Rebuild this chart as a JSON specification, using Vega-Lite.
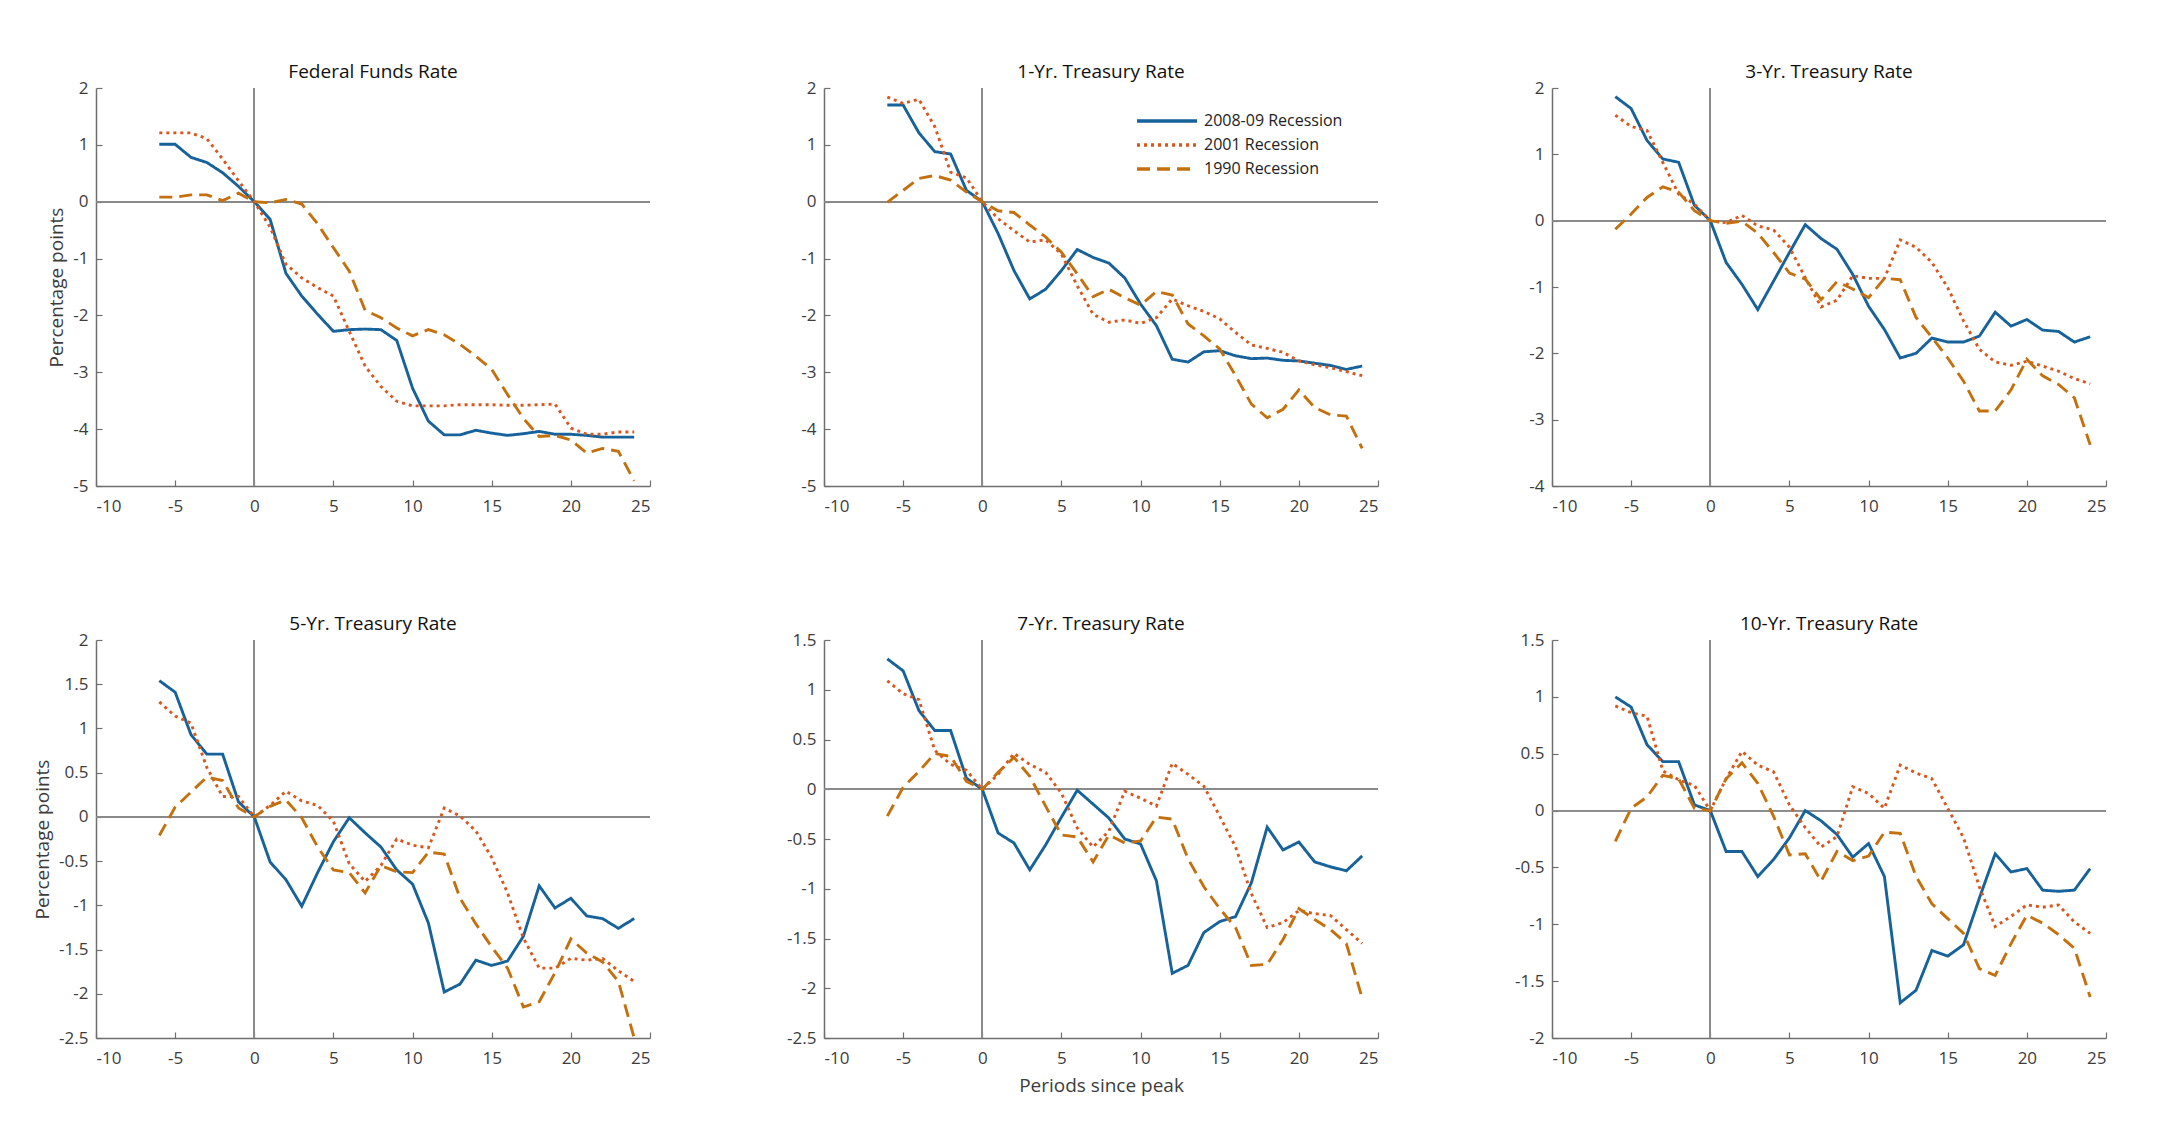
{
  "$schema": "https://vega.github.io/schema/vega-lite/v6.json",
  "background": "white",
  "padding": {"left": 33, "top": 63, "right": 5, "bottom": 5},
  "config": {
    "font": "Open Sans",
    "view": {"stroke": null},
    "axis": {"grid": false, "domainColor": "#6f6f6f", "domainWidth": 1.5, "tickColor": "#6f6f6f", "tickWidth": 1.2, "tickSize": -6, "labelFont": "Open Sans", "labelFontSize": 17, "labelColor": "#3c3c3c", "titleFont": "Open Sans", "titleFontSize": 19, "titleFontWeight": "normal", "titleColor": "#3c3c3c"},
    "axisX": {"labelPadding": 18, "titlePadding": 10},
    "axisY": {"labelPadding": 14, "titlePadding": 6},
    "title": {"font": "Open Sans", "fontSize": 19, "fontWeight": "normal", "color": "#111111", "offset": -3}
  },
  "datasets": {
    "ffr": [
      {"x":-6,"2008-09":1.01,"2001":1.21,"1990":0.08},{"x":-5,"2008-09":1.01,"2001":1.21,"1990":0.08},{"x":-4,"2008-09":0.78,"2001":1.21,"1990":0.12},{"x":-3,"2008-09":0.69,"2001":1.11,"1990":0.12},{"x":-2,"2008-09":0.51,"2001":0.75,"1990":0.02},{"x":-1,"2008-09":0.27,"2001":0.37,"1990":0.15},{"x":0,"2008-09":0,"2001":0,"1990":0},{"x":1,"2008-09":-0.31,"2001":-0.45,"1990":-0.02},{"x":2,"2008-09":-1.26,"2001":-1.10,"1990":0.04},{"x":3,"2008-09":-1.66,"2001":-1.34,"1990":-0.04},{"x":4,"2008-09":-1.98,"2001":-1.51,"1990":-0.39},{"x":5,"2008-09":-2.28,"2001":-1.66,"1990":-0.81},{"x":6,"2008-09":-2.25,"2001":-2.28,"1990":-1.22},{"x":7,"2008-09":-2.24,"2001":-2.89,"1990":-1.91},{"x":8,"2008-09":-2.25,"2001":-3.25,"1990":-2.04},{"x":9,"2008-09":-2.44,"2001":-3.51,"1990":-2.22},{"x":10,"2008-09":-3.28,"2001":-3.59,"1990":-2.36},{"x":11,"2008-09":-3.86,"2001":-3.59,"1990":-2.25},{"x":12,"2008-09":-4.10,"2001":-3.59,"1990":-2.34},{"x":13,"2008-09":-4.10,"2001":-3.57,"1990":-2.51},{"x":14,"2008-09":-4.02,"2001":-3.57,"1990":-2.72},{"x":15,"2008-09":-4.07,"2001":-3.57,"1990":-2.95},{"x":16,"2008-09":-4.11,"2001":-3.58,"1990":-3.39},{"x":17,"2008-09":-4.08,"2001":-3.58,"1990":-3.81},{"x":18,"2008-09":-4.04,"2001":-3.57,"1990":-4.13},{"x":19,"2008-09":-4.09,"2001":-3.56,"1990":-4.11},{"x":20,"2008-09":-4.09,"2001":-3.98,"1990":-4.19},{"x":21,"2008-09":-4.11,"2001":-4.09,"1990":-4.42},{"x":22,"2008-09":-4.14,"2001":-4.09,"1990":-4.34},{"x":23,"2008-09":-4.14,"2001":-4.05,"1990":-4.39},{"x":24,"2008-09":-4.14,"2001":-4.05,"1990":-4.91}
    ],
    "y1": [
      {"x":-6,"2008-09":1.70,"2001":1.84,"1990":-0.01},{"x":-5,"2008-09":1.70,"2001":1.73,"1990":0.20},{"x":-4,"2008-09":1.21,"2001":1.80,"1990":0.41},{"x":-3,"2008-09":0.88,"2001":1.32,"1990":0.46},{"x":-2,"2008-09":0.84,"2001":0.52,"1990":0.38},{"x":-1,"2008-09":0.20,"2001":0.42,"1990":0.17},{"x":0,"2008-09":0,"2001":0,"1990":0},{"x":1,"2008-09":-0.56,"2001":-0.30,"1990":-0.16},{"x":2,"2008-09":-1.21,"2001":-0.51,"1990":-0.19},{"x":3,"2008-09":-1.71,"2001":-0.71,"1990":-0.41},{"x":4,"2008-09":-1.54,"2001":-0.67,"1990":-0.62},{"x":5,"2008-09":-1.21,"2001":-0.92,"1990":-0.89},{"x":6,"2008-09":-0.84,"2001":-1.48,"1990":-1.27},{"x":7,"2008-09":-0.98,"2001":-1.98,"1990":-1.67},{"x":8,"2008-09":-1.08,"2001":-2.12,"1990":-1.54},{"x":9,"2008-09":-1.34,"2001":-2.08,"1990":-1.69},{"x":10,"2008-09":-1.80,"2001":-2.14,"1990":-1.82},{"x":11,"2008-09":-2.18,"2001":-2.04,"1990":-1.58},{"x":12,"2008-09":-2.77,"2001":-1.71,"1990":-1.64},{"x":13,"2008-09":-2.82,"2001":-1.83,"1990":-2.15},{"x":14,"2008-09":-2.64,"2001":-1.93,"1990":-2.36},{"x":15,"2008-09":-2.62,"2001":-2.06,"1990":-2.59},{"x":16,"2008-09":-2.71,"2001":-2.30,"1990":-3.06},{"x":17,"2008-09":-2.76,"2001":-2.52,"1990":-3.56},{"x":18,"2008-09":-2.75,"2001":-2.58,"1990":-3.80},{"x":19,"2008-09":-2.79,"2001":-2.65,"1990":-3.65},{"x":20,"2008-09":-2.80,"2001":-2.80,"1990":-3.31},{"x":21,"2008-09":-2.84,"2001":-2.87,"1990":-3.62},{"x":22,"2008-09":-2.88,"2001":-2.92,"1990":-3.75},{"x":23,"2008-09":-2.95,"2001":-2.99,"1990":-3.77},{"x":24,"2008-09":-2.89,"2001":-3.06,"1990":-4.34}
    ],
    "y3": [
      {"x":-6,"2008-09":1.87,"2001":1.59,"1990":-0.13},{"x":-5,"2008-09":1.69,"2001":1.42,"1990":0.10},{"x":-4,"2008-09":1.21,"2001":1.36,"1990":0.35},{"x":-3,"2008-09":0.93,"2001":0.88,"1990":0.51},{"x":-2,"2008-09":0.88,"2001":0.40,"1990":0.43},{"x":-1,"2008-09":0.23,"2001":0.25,"1990":0.15},{"x":0,"2008-09":0,"2001":0,"1990":0},{"x":1,"2008-09":-0.63,"2001":-0.03,"1990":-0.04},{"x":2,"2008-09":-0.96,"2001":0.08,"1990":-0.01},{"x":3,"2008-09":-1.34,"2001":-0.08,"1990":-0.19},{"x":4,"2008-09":-0.91,"2001":-0.14,"1990":-0.48},{"x":5,"2008-09":-0.48,"2001":-0.40,"1990":-0.79},{"x":6,"2008-09":-0.06,"2001":-0.86,"1990":-0.88},{"x":7,"2008-09":-0.27,"2001":-1.30,"1990":-1.19},{"x":8,"2008-09":-0.43,"2001":-1.20,"1990":-0.92},{"x":9,"2008-09":-0.81,"2001":-0.83,"1990":-1.03},{"x":10,"2008-09":-1.29,"2001":-0.87,"1990":-1.16},{"x":11,"2008-09":-1.64,"2001":-0.87,"1990":-0.87},{"x":12,"2008-09":-2.07,"2001":-0.29,"1990":-0.89},{"x":13,"2008-09":-2.00,"2001":-0.40,"1990":-1.46},{"x":14,"2008-09":-1.77,"2001":-0.63,"1990":-1.76},{"x":15,"2008-09":-1.83,"2001":-1.01,"1990":-2.07},{"x":16,"2008-09":-1.83,"2001":-1.51,"1990":-2.42},{"x":17,"2008-09":-1.74,"2001":-1.94,"1990":-2.87},{"x":18,"2008-09":-1.38,"2001":-2.13,"1990":-2.87},{"x":19,"2008-09":-1.59,"2001":-2.18,"1990":-2.55},{"x":20,"2008-09":-1.49,"2001":-2.12,"1990":-2.09},{"x":21,"2008-09":-1.65,"2001":-2.19,"1990":-2.34},{"x":22,"2008-09":-1.67,"2001":-2.27,"1990":-2.47},{"x":23,"2008-09":-1.83,"2001":-2.38,"1990":-2.67},{"x":24,"2008-09":-1.75,"2001":-2.46,"1990":-3.38}
    ],
    "y5": [
      {"x":-6,"2008-09":1.54,"2001":1.30,"1990":-0.21},{"x":-5,"2008-09":1.41,"2001":1.14,"1990":0.11},{"x":-4,"2008-09":0.93,"2001":1.06,"1990":0.28},{"x":-3,"2008-09":0.71,"2001":0.56,"1990":0.45},{"x":-2,"2008-09":0.71,"2001":0.23,"1990":0.41},{"x":-1,"2008-09":0.17,"2001":0.23,"1990":0.10},{"x":0,"2008-09":0,"2001":0,"1990":0},{"x":1,"2008-09":-0.51,"2001":0.13,"1990":0.12},{"x":2,"2008-09":-0.71,"2001":0.29,"1990":0.19},{"x":3,"2008-09":-1.01,"2001":0.18,"1990":-0.01},{"x":4,"2008-09":-0.63,"2001":0.13,"1990":-0.34},{"x":5,"2008-09":-0.28,"2001":-0.05,"1990":-0.60},{"x":6,"2008-09":-0.01,"2001":-0.53,"1990":-0.63},{"x":7,"2008-09":-0.18,"2001":-0.73,"1990":-0.86},{"x":8,"2008-09":-0.34,"2001":-0.55,"1990":-0.55},{"x":9,"2008-09":-0.60,"2001":-0.25,"1990":-0.62},{"x":10,"2008-09":-0.76,"2001":-0.32,"1990":-0.63},{"x":11,"2008-09":-1.20,"2001":-0.35,"1990":-0.40},{"x":12,"2008-09":-1.98,"2001":0.10,"1990":-0.42},{"x":13,"2008-09":-1.89,"2001":0.01,"1990":-0.92},{"x":14,"2008-09":-1.62,"2001":-0.16,"1990":-1.21},{"x":15,"2008-09":-1.68,"2001":-0.46,"1990":-1.47},{"x":16,"2008-09":-1.63,"2001":-0.86,"1990":-1.71},{"x":17,"2008-09":-1.35,"2001":-1.37,"1990":-2.15},{"x":18,"2008-09":-0.78,"2001":-1.71,"1990":-2.09},{"x":19,"2008-09":-1.03,"2001":-1.71,"1990":-1.76},{"x":20,"2008-09":-0.92,"2001":-1.60,"1990":-1.38},{"x":21,"2008-09":-1.12,"2001":-1.62,"1990":-1.54},{"x":22,"2008-09":-1.15,"2001":-1.60,"1990":-1.64},{"x":23,"2008-09":-1.26,"2001":-1.74,"1990":-1.86},{"x":24,"2008-09":-1.15,"2001":-1.86,"1990":-2.5}
    ],
    "y7": [
      {"x":-6,"2008-09":1.31,"2001":1.09,"1990":-0.27},{"x":-5,"2008-09":1.19,"2001":0.96,"1990":0.02},{"x":-4,"2008-09":0.79,"2001":0.90,"1990":0.18},{"x":-3,"2008-09":0.59,"2001":0.39,"1990":0.36},{"x":-2,"2008-09":0.59,"2001":0.25,"1990":0.33},{"x":-1,"2008-09":0.11,"2001":0.19,"1990":0.08},{"x":0,"2008-09":0,"2001":0,"1990":0},{"x":1,"2008-09":-0.44,"2001":0.15,"1990":0.17},{"x":2,"2008-09":-0.54,"2001":0.36,"1990":0.32},{"x":3,"2008-09":-0.81,"2001":0.25,"1990":0.13},{"x":4,"2008-09":-0.56,"2001":0.17,"1990":-0.17},{"x":5,"2008-09":-0.28,"2001":-0.04,"1990":-0.46},{"x":6,"2008-09":-0.01,"2001":-0.39,"1990":-0.48},{"x":7,"2008-09":-0.15,"2001":-0.58,"1990":-0.73},{"x":8,"2008-09":-0.29,"2001":-0.42,"1990":-0.46},{"x":9,"2008-09":-0.50,"2001":-0.02,"1990":-0.54},{"x":10,"2008-09":-0.55,"2001":-0.09,"1990":-0.52},{"x":11,"2008-09":-0.92,"2001":-0.17,"1990":-0.28},{"x":12,"2008-09":-1.85,"2001":0.26,"1990":-0.30},{"x":13,"2008-09":-1.77,"2001":0.15,"1990":-0.70},{"x":14,"2008-09":-1.44,"2001":0.03,"1990":-0.98},{"x":15,"2008-09":-1.33,"2001":-0.27,"1990":-1.20},{"x":16,"2008-09":-1.28,"2001":-0.58,"1990":-1.39},{"x":17,"2008-09":-0.94,"2001":-1.05,"1990":-1.77},{"x":18,"2008-09":-0.38,"2001":-1.39,"1990":-1.76},{"x":19,"2008-09":-0.61,"2001":-1.34,"1990":-1.51},{"x":20,"2008-09":-0.53,"2001":-1.22,"1990":-1.20},{"x":21,"2008-09":-0.73,"2001":-1.25,"1990":-1.31},{"x":22,"2008-09":-0.78,"2001":-1.27,"1990":-1.41},{"x":23,"2008-09":-0.82,"2001":-1.41,"1990":-1.55},{"x":24,"2008-09":-0.67,"2001":-1.55,"1990":-2.10}
    ],
    "y10": [
      {"x":-6,"2008-09":1.00,"2001":0.92,"1990":-0.27},{"x":-5,"2008-09":0.91,"2001":0.86,"1990":0.02},{"x":-4,"2008-09":0.58,"2001":0.83,"1990":0.12},{"x":-3,"2008-09":0.43,"2001":0.35,"1990":0.31},{"x":-2,"2008-09":0.43,"2001":0.27,"1990":0.28},{"x":-1,"2008-09":0.05,"2001":0.22,"1990":0.02},{"x":0,"2008-09":0,"2001":0,"1990":0},{"x":1,"2008-09":-0.36,"2001":0.28,"1990":0.28},{"x":2,"2008-09":-0.36,"2001":0.52,"1990":0.42},{"x":3,"2008-09":-0.58,"2001":0.40,"1990":0.24},{"x":4,"2008-09":-0.43,"2001":0.34,"1990":-0.05},{"x":5,"2008-09":-0.24,"2001":0.05,"1990":-0.39},{"x":6,"2008-09":0.00,"2001":-0.15,"1990":-0.38},{"x":7,"2008-09":-0.09,"2001":-0.32,"1990":-0.62},{"x":8,"2008-09":-0.21,"2001":-0.23,"1990":-0.36},{"x":9,"2008-09":-0.41,"2001":0.21,"1990":-0.44},{"x":10,"2008-09":-0.29,"2001":0.15,"1990":-0.40},{"x":11,"2008-09":-0.58,"2001":0.02,"1990":-0.19},{"x":12,"2008-09":-1.69,"2001":0.40,"1990":-0.20},{"x":13,"2008-09":-1.58,"2001":0.33,"1990":-0.58},{"x":14,"2008-09":-1.23,"2001":0.28,"1990":-0.82},{"x":15,"2008-09":-1.28,"2001":0.02,"1990":-0.95},{"x":16,"2008-09":-1.18,"2001":-0.24,"1990":-1.08},{"x":17,"2008-09":-0.77,"2001":-0.67,"1990":-1.39},{"x":18,"2008-09":-0.38,"2001":-1.02,"1990":-1.45},{"x":19,"2008-09":-0.54,"2001":-0.93,"1990":-1.17},{"x":20,"2008-09":-0.51,"2001":-0.83,"1990":-0.92},{"x":21,"2008-09":-0.70,"2001":-0.85,"1990":-0.99},{"x":22,"2008-09":-0.71,"2001":-0.83,"1990":-1.09},{"x":23,"2008-09":-0.70,"2001":-0.98,"1990":-1.21},{"x":24,"2008-09":-0.51,"2001":-1.08,"1990":-1.64}
    ]
  },
  "columns": 3,
  "spacing": {"row": 154, "column": 174},
  "bounds": "flush",
  "resolve": {"scale": {"color": "independent", "strokeDash": "independent"}, "legend": {"color": "independent", "strokeDash": "independent"}},
  "concat": [
    {
      "data": {"name": "ffr"},
      "title": "Federal Funds Rate",
      "width": 554, "height": 398,
      "transform": [{"fold": ["2008-09", "2001", "1990"], "as": ["rec", "val"]}],
      "layer": [
        {"mark": {"type": "rule", "color": "#8a8a8a", "strokeWidth": 1}, "encoding": {"y": {"datum": 0}}},
        {"mark": {"type": "rule", "color": "#8a8a8a", "strokeWidth": 1}, "encoding": {"x": {"datum": 0}}},
        {"mark": {"type": "line", "strokeWidth": 2.9},
         "encoding": {
           "x": {"field": "x", "type": "quantitative", "scale": {"domain": [-10, 25], "nice": false}, "axis": {"values": [-10, -5, 0, 5, 10, 15, 20, 25], "title": null, "labelExpr": "toString(datum.value)"}},
           "y": {"field": "val", "type": "quantitative", "scale": {"domain": [-5, 2], "nice": false}, "axis": {"values": [-5, -4, -3, -2, -1, 0, 1, 2], "title": "Percentage points", "labelExpr": "toString(datum.value)"}},
           "color": {"field": "rec", "type": "nominal", "scale": {"domain": ["2008-09", "2001", "1990"], "range": ["#17629a", "#d9561c", "#c5700e"]}, "legend": null},
           "strokeDash": {"field": "rec", "type": "nominal", "scale": {"domain": ["2008-09", "2001", "1990"], "range": [[1, 0], [3, 4], [13, 7]]}, "legend": null}
         }}
      ]
    },
    {
      "data": {"name": "y1"},
      "title": "1-Yr. Treasury Rate",
      "width": 554, "height": 398,
      "transform": [{"fold": ["2008-09", "2001", "1990"], "as": ["rec", "val"]}],
      "layer": [
        {"mark": {"type": "rule", "color": "#8a8a8a", "strokeWidth": 1}, "encoding": {"y": {"datum": 0}}},
        {"mark": {"type": "rule", "color": "#8a8a8a", "strokeWidth": 1}, "encoding": {"x": {"datum": 0}}},
        {"mark": {"type": "line", "strokeWidth": 2.9},
         "encoding": {
           "x": {"field": "x", "type": "quantitative", "scale": {"domain": [-10, 25], "nice": false}, "axis": {"values": [-10, -5, 0, 5, 10, 15, 20, 25], "title": null, "labelExpr": "toString(datum.value)"}},
           "y": {"field": "val", "type": "quantitative", "scale": {"domain": [-5, 2], "nice": false}, "axis": {"values": [-5, -4, -3, -2, -1, 0, 1, 2], "title": null, "labelExpr": "toString(datum.value)"}},
           "color": {"field": "rec", "type": "nominal", "scale": {"domain": ["2008-09", "2001", "1990"], "range": ["#17629a", "#d9561c", "#c5700e"]},
             "legend": {"orient": "none", "legendX": 311, "legendY": 21, "title": null, "labelExpr": "datum.label + ' Recession'", "symbolType": "M-1,0H5", "symbolSize": 400, "symbolStrokeWidth": 3.4, "labelFont": "Open Sans", "labelFontSize": 16, "labelColor": "#222222", "rowPadding": 4, "padding": 0, "labelOffset": 45}},
           "strokeDash": {"field": "rec", "type": "nominal", "scale": {"domain": ["2008-09", "2001", "1990"], "range": [[1, 0], [3, 4], [13, 7]]},
             "legend": {"orient": "none", "legendX": 311, "legendY": 21, "title": null, "labelExpr": "datum.label + ' Recession'", "symbolType": "M-1,0H5", "symbolSize": 400, "symbolStrokeWidth": 3.4, "labelFont": "Open Sans", "labelFontSize": 16, "labelColor": "#222222", "rowPadding": 4, "padding": 0, "labelOffset": 45}}
         }}
      ]
    },
    {
      "data": {"name": "y3"},
      "title": "3-Yr. Treasury Rate",
      "width": 554, "height": 398,
      "transform": [{"fold": ["2008-09", "2001", "1990"], "as": ["rec", "val"]}],
      "layer": [
        {"mark": {"type": "rule", "color": "#8a8a8a", "strokeWidth": 1}, "encoding": {"y": {"datum": 0}}},
        {"mark": {"type": "rule", "color": "#8a8a8a", "strokeWidth": 1}, "encoding": {"x": {"datum": 0}}},
        {"mark": {"type": "line", "strokeWidth": 2.9},
         "encoding": {
           "x": {"field": "x", "type": "quantitative", "scale": {"domain": [-10, 25], "nice": false}, "axis": {"values": [-10, -5, 0, 5, 10, 15, 20, 25], "title": null, "labelExpr": "toString(datum.value)"}},
           "y": {"field": "val", "type": "quantitative", "scale": {"domain": [-4, 2], "nice": false}, "axis": {"values": [-4, -3, -2, -1, 0, 1, 2], "title": null, "labelExpr": "toString(datum.value)"}},
           "color": {"field": "rec", "type": "nominal", "scale": {"domain": ["2008-09", "2001", "1990"], "range": ["#17629a", "#d9561c", "#c5700e"]}, "legend": null},
           "strokeDash": {"field": "rec", "type": "nominal", "scale": {"domain": ["2008-09", "2001", "1990"], "range": [[1, 0], [3, 4], [13, 7]]}, "legend": null}
         }}
      ]
    },
    {
      "data": {"name": "y5"},
      "title": "5-Yr. Treasury Rate",
      "width": 554, "height": 398,
      "transform": [{"fold": ["2008-09", "2001", "1990"], "as": ["rec", "val"]}],
      "layer": [
        {"mark": {"type": "rule", "color": "#8a8a8a", "strokeWidth": 1}, "encoding": {"y": {"datum": 0}}},
        {"mark": {"type": "rule", "color": "#8a8a8a", "strokeWidth": 1}, "encoding": {"x": {"datum": 0}}},
        {"mark": {"type": "line", "strokeWidth": 2.9},
         "encoding": {
           "x": {"field": "x", "type": "quantitative", "scale": {"domain": [-10, 25], "nice": false}, "axis": {"values": [-10, -5, 0, 5, 10, 15, 20, 25], "title": null, "labelExpr": "toString(datum.value)"}},
           "y": {"field": "val", "type": "quantitative", "scale": {"domain": [-2.5, 2], "nice": false}, "axis": {"values": [-2.5, -2, -1.5, -1, -0.5, 0, 0.5, 1, 1.5, 2], "title": "Percentage points", "labelExpr": "toString(datum.value)"}},
           "color": {"field": "rec", "type": "nominal", "scale": {"domain": ["2008-09", "2001", "1990"], "range": ["#17629a", "#d9561c", "#c5700e"]}, "legend": null},
           "strokeDash": {"field": "rec", "type": "nominal", "scale": {"domain": ["2008-09", "2001", "1990"], "range": [[1, 0], [3, 4], [13, 7]]}, "legend": null}
         }}
      ]
    },
    {
      "data": {"name": "y7"},
      "title": "7-Yr. Treasury Rate",
      "width": 554, "height": 398,
      "transform": [{"fold": ["2008-09", "2001", "1990"], "as": ["rec", "val"]}],
      "layer": [
        {"mark": {"type": "rule", "color": "#8a8a8a", "strokeWidth": 1}, "encoding": {"y": {"datum": 0}}},
        {"mark": {"type": "rule", "color": "#8a8a8a", "strokeWidth": 1}, "encoding": {"x": {"datum": 0}}},
        {"mark": {"type": "line", "strokeWidth": 2.9},
         "encoding": {
           "x": {"field": "x", "type": "quantitative", "scale": {"domain": [-10, 25], "nice": false}, "axis": {"values": [-10, -5, 0, 5, 10, 15, 20, 25], "title": "Periods since peak", "labelExpr": "toString(datum.value)"}},
           "y": {"field": "val", "type": "quantitative", "scale": {"domain": [-2.5, 1.5], "nice": false}, "axis": {"values": [-2.5, -2, -1.5, -1, -0.5, 0, 0.5, 1, 1.5], "title": null, "labelExpr": "toString(datum.value)"}},
           "color": {"field": "rec", "type": "nominal", "scale": {"domain": ["2008-09", "2001", "1990"], "range": ["#17629a", "#d9561c", "#c5700e"]}, "legend": null},
           "strokeDash": {"field": "rec", "type": "nominal", "scale": {"domain": ["2008-09", "2001", "1990"], "range": [[1, 0], [3, 4], [13, 7]]}, "legend": null}
         }}
      ]
    },
    {
      "data": {"name": "y10"},
      "title": "10-Yr. Treasury Rate",
      "width": 554, "height": 398,
      "transform": [{"fold": ["2008-09", "2001", "1990"], "as": ["rec", "val"]}],
      "layer": [
        {"mark": {"type": "rule", "color": "#8a8a8a", "strokeWidth": 1}, "encoding": {"y": {"datum": 0}}},
        {"mark": {"type": "rule", "color": "#8a8a8a", "strokeWidth": 1}, "encoding": {"x": {"datum": 0}}},
        {"mark": {"type": "line", "strokeWidth": 2.9},
         "encoding": {
           "x": {"field": "x", "type": "quantitative", "scale": {"domain": [-10, 25], "nice": false}, "axis": {"values": [-10, -5, 0, 5, 10, 15, 20, 25], "title": null, "labelExpr": "toString(datum.value)"}},
           "y": {"field": "val", "type": "quantitative", "scale": {"domain": [-2, 1.5], "nice": false}, "axis": {"values": [-2, -1.5, -1, -0.5, 0, 0.5, 1, 1.5], "title": null, "labelExpr": "toString(datum.value)"}},
           "color": {"field": "rec", "type": "nominal", "scale": {"domain": ["2008-09", "2001", "1990"], "range": ["#17629a", "#d9561c", "#c5700e"]}, "legend": null},
           "strokeDash": {"field": "rec", "type": "nominal", "scale": {"domain": ["2008-09", "2001", "1990"], "range": [[1, 0], [3, 4], [13, 7]]}, "legend": null}
         }}
      ]
    }
  ]
}
